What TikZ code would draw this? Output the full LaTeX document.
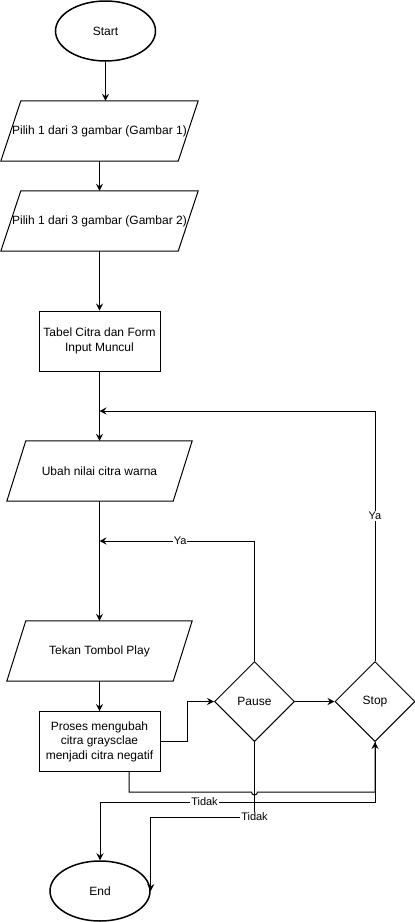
\documentclass[tikz,border=0pt]{standalone}
\usepackage{fontspec}
\setmainfont{Liberation Sans}
\usetikzlibrary{shapes.geometric,arrows.meta,calc}
\begin{document}
\begin{tikzpicture}[x=1pt,y=-1pt,
  every node/.style={font=\fontsize{12pt}{14.5pt}\selectfont},
  term/.style={ellipse,draw,line width=1.5pt,minimum width=100pt,minimum height=60pt,inner sep=0pt},
  iobox/.style={rectangle,draw=none,minimum height=60pt,inner sep=0pt},
  procbox/.style={rectangle,draw,line width=1pt,minimum width=121pt,minimum height=60pt,align=center,inner sep=0pt},
  decis/.style={diamond,draw,line width=1pt,minimum width=80pt,minimum height=80pt,inner sep=0pt},
  shp/.style={draw,line width=1pt},
  arr/.style={draw,line width=1pt,-{Stealth[length=7pt,width=7pt,inset=2.5pt]}},
  conn/.style={draw,line width=1pt},
  lbl/.style={fill=white,inner sep=1pt,font=\fontsize{11pt}{13pt}\selectfont}]
\useasboundingbox (0,0) rectangle (415,922);

% nodes
\node[term] (start) at (105.5,31) {Start};
\node[iobox,minimum width=197pt] (p1) at (99.5,131) {Pilih 1 dari 3 gambar (Gambar 1)};
\node[iobox,minimum width=197pt] (p2) at (99.5,221) {Pilih 1 dari 3 gambar (Gambar 2)};
\node[procbox] (r1) at (99.5,341) {Tabel Citra dan Form\\Input Muncul};
\node[iobox,minimum width=185pt] (p3) at (99.5,471) {Ubah nilai citra warna};
\node[iobox,minimum width=185pt] (p4) at (99.5,651) {Tekan Tombol Play};
\node[procbox] (r2) at (99.5,741.5) {Proses mengubah\\citra graysclae\\menjadi citra negatif};
\node[decis] (pause) at (254.5,701.5) {Pause};
\node[decis] (stop) at (375,701.5) {Stop};
\node[term] (end) at (100,891) {End};

% parallelogram outlines
\draw[shp] ($(p1.north west)+(20,0)$) -- (p1.north east) -- ($(p1.south east)-(20,0)$) -- (p1.south west) -- cycle;
\draw[shp] ($(p2.north west)+(20,0)$) -- (p2.north east) -- ($(p2.south east)-(20,0)$) -- (p2.south west) -- cycle;
\draw[shp] ($(p3.north west)+(19,0)$) -- (p3.north east) -- ($(p3.south east)-(19,0)$) -- (p3.south west) -- cycle;
\draw[shp] ($(p4.north west)+(19,0)$) -- (p4.north east) -- ($(p4.south east)-(19,0)$) -- (p4.south west) -- cycle;

% junction coordinates
\coordinate (j1) at (99.5,411);
\coordinate (j2) at (99.5,541);
\coordinate (b0) at (129,772);
\coordinate (b1) at (129,792);
\coordinate (h1) at (251.5,792);
\coordinate (h2) at (257.5,792);
\coordinate (b2) at (375,792);
\coordinate (t1) at (375,802);
\coordinate (t2) at (254.5,817);

% connectors
\draw[arr] (start.south) -- (start.south |- p1.north);
\draw[arr] (p1.south) -- (p2.north);
\draw[arr] (p2.south) -- (r1.north);
\draw[arr] (r1.south) -- (p3.north);
\draw[arr] (p3.south) -- (p4.north);
\draw[arr] (p4.south) -- (r2.north);
\draw[arr] (r2.east) -- ++(27,0) |- (pause.west);
\draw[arr] (pause.east) -- (stop.west);
\draw[arr] (pause.north) |- node[lbl,pos=0.74]{Ya} (j2);
\draw[arr] (stop.north) |- node[lbl,pos=0.29]{Ya} (j1);
\draw[arr] (b0) -- (b1) -- (h1) arc[start angle=180,end angle=0,radius=3] -- (b2) -- (stop.south);
\draw[arr] (stop.south) -- (t1) -| node[lbl,pos=0.31]{Tidak} (end.north);
\draw[arr] (pause.south) -- (t2) -| (end.east);
\node[lbl] (tl2) at (t2) {Tidak};
\end{tikzpicture}
\end{document}
